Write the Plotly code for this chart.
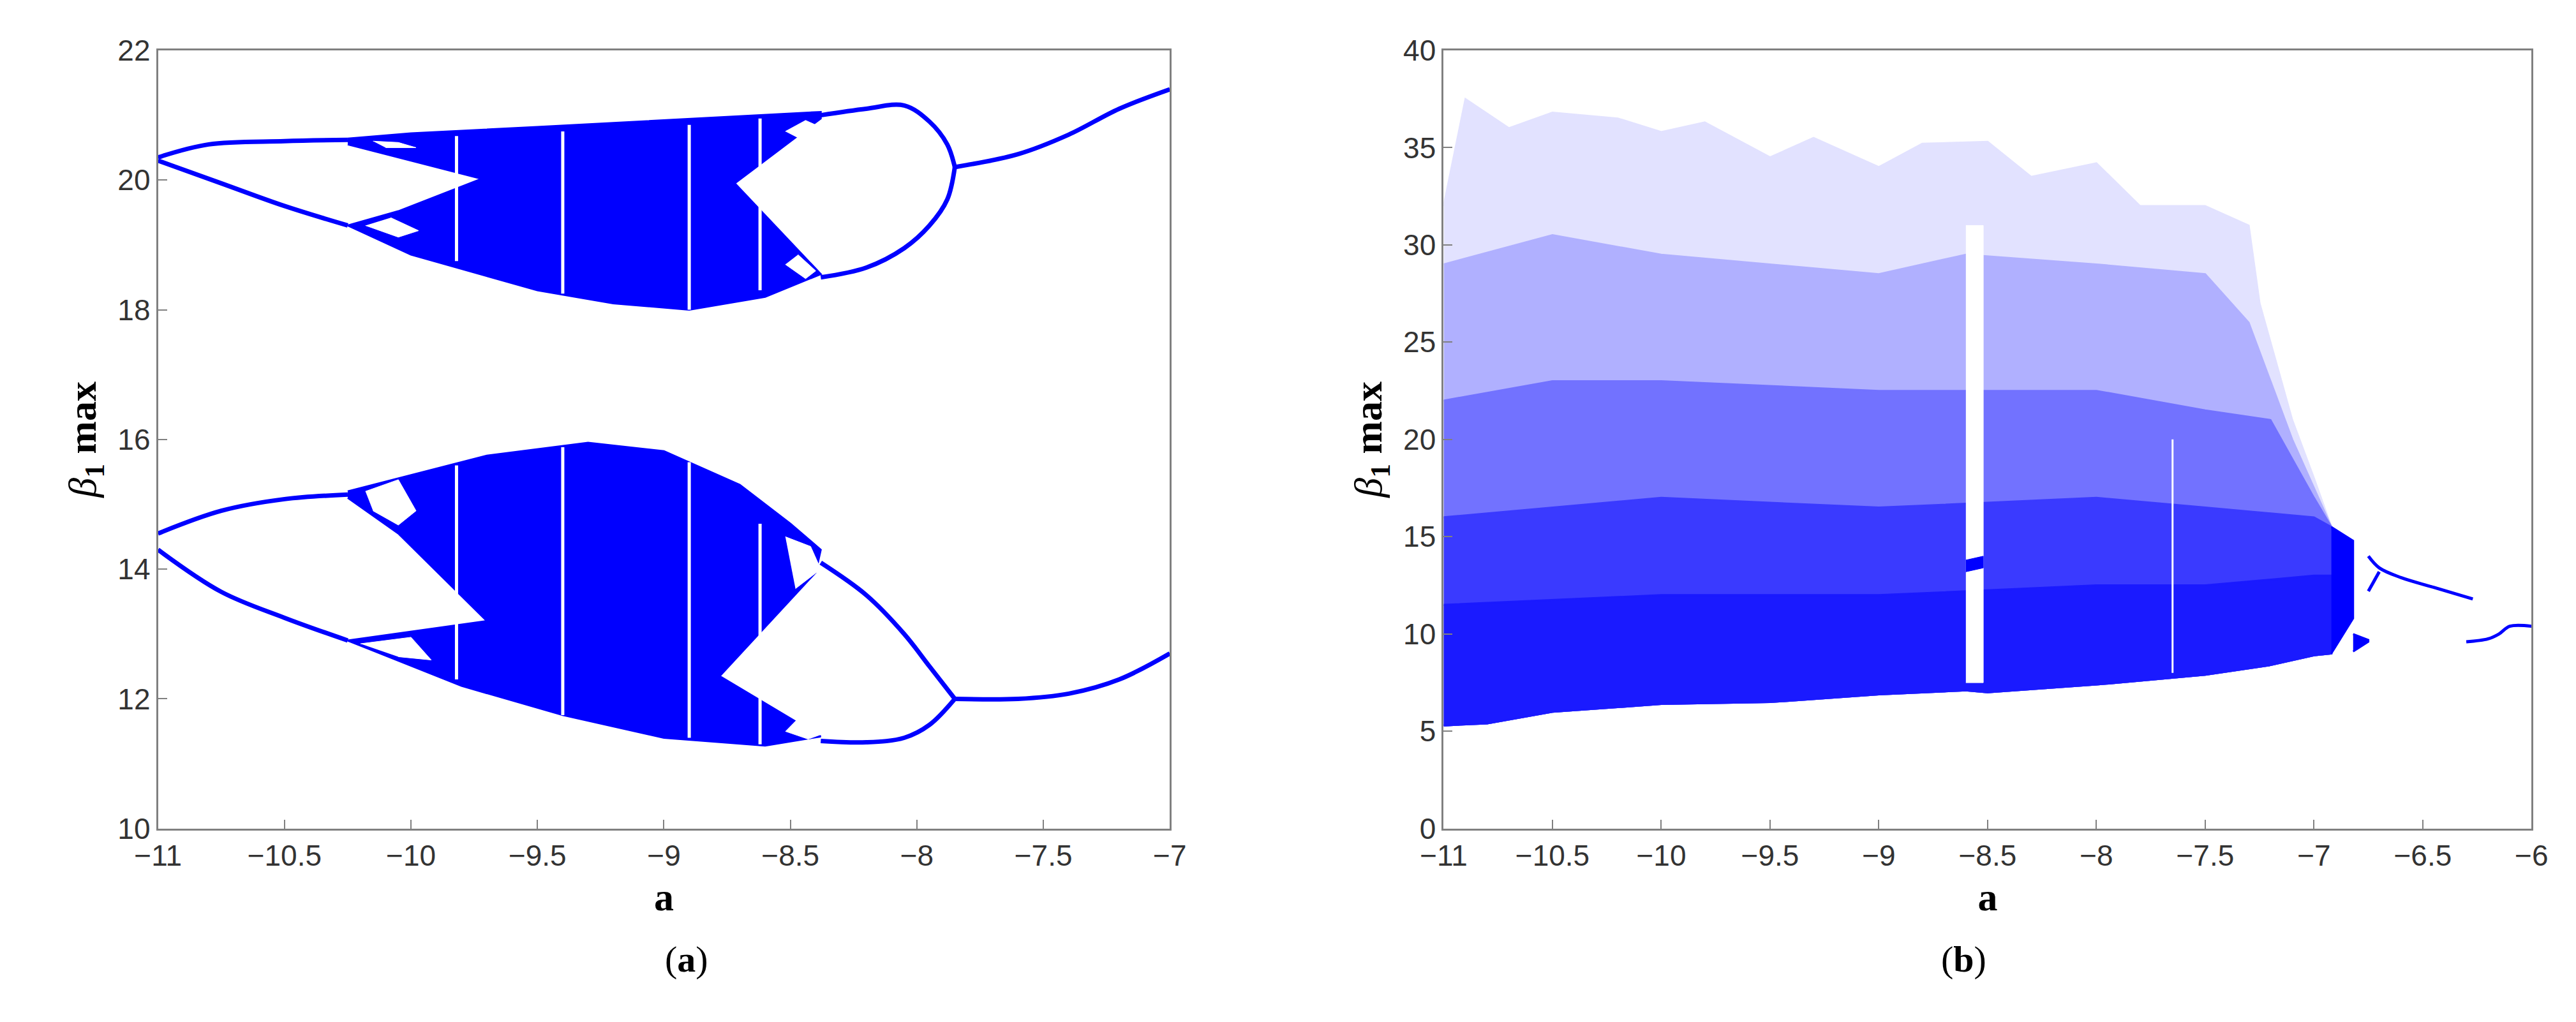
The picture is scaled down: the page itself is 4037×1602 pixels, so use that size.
import plotly.graph_objects as go

BLUE = "#0000ff"

# ---------- panel (a): upper attractor ----------
a_u_loop_top_x = [-11, -10.8, -10.5, -10.25]
a_u_loop_top_y = [20.35, 20.55, 20.6, 20.62]
a_u_loop_bot_x = [-11, -10.75, -10.5, -10.25]
a_u_loop_bot_y = [20.3, 19.95, 19.6, 19.3]
# chaotic band outline (clockwise, with the notches of the periodic wedges)
a_u_band_x = [-10.25, -10.0, -9.5, -9.0, -8.6, -8.38, -8.38, -8.72, -8.38,
              -8.6, -8.9, -9.2, -9.5, -10.0, -10.25, -10.05, -9.72, -10.25]
a_u_band_y = [20.64, 20.72, 20.82, 20.92, 21.0, 21.05, 20.95, 19.95, 18.55,
              18.2, 18.0, 18.1, 18.3, 18.85, 19.3, 19.52, 20.02, 20.55]
a_u_hole1_x = [-10.18, -10.05, -9.97, -10.08]
a_u_hole1_y = [19.3, 19.12, 19.22, 19.42]
a_u_hole2_x = [-10.15, -10.05, -9.98, -10.1]
a_u_hole2_y = [20.6, 20.58, 20.5, 20.5]
a_u_hole3_x = [-8.52, -8.44, -8.4, -8.47]
a_u_hole3_y = [20.75, 20.92, 20.85, 20.65]
a_u_hole4_x = [-8.52, -8.44, -8.4, -8.47]
a_u_hole4_y = [18.7, 18.48, 18.6, 18.85]
a_u_right_top_x = [-8.38, -8.2, -8.05, -7.95, -7.88, -7.85]
a_u_right_top_y = [21.0, 21.1, 21.15, 20.9, 20.55, 20.2]
a_u_right_bot_x = [-8.38, -8.2, -8.05, -7.95, -7.88, -7.85]
a_u_right_bot_y = [18.5, 18.65, 18.95, 19.3, 19.7, 20.2]
a_u_tail_x = [-7.85, -7.6, -7.4, -7.2, -7.0]
a_u_tail_y = [20.2, 20.4, 20.7, 21.1, 21.4]

# ---------- panel (a): lower attractor ----------
a_l_loop_top_x = [-11, -10.75, -10.5, -10.25]
a_l_loop_top_y = [14.55, 14.9, 15.08, 15.15]
a_l_loop_bot_x = [-11, -10.75, -10.5, -10.25]
a_l_loop_bot_y = [14.3, 13.65, 13.25, 12.9]
a_l_band_x = [-10.25, -10.0, -9.7, -9.3, -9.0, -8.7, -8.5, -8.38, -8.4, -8.78, -8.38,
              -8.6, -9.0, -9.4, -9.8, -10.25, -9.7, -10.05, -10.25]
a_l_band_y = [15.2, 15.45, 15.75, 15.95, 15.82, 15.3, 14.7, 14.3, 13.95, 12.35, 11.42,
              11.28, 11.4, 11.75, 12.2, 12.9, 13.2, 14.55, 15.1]
a_l_hole1_x = [-10.18, -10.05, -9.98, -10.05, -10.15]
a_l_hole1_y = [15.2, 15.38, 14.9, 14.68, 14.9]
a_l_hole2_x = [-10.2, -10.0, -9.92, -10.05]
a_l_hole2_y = [12.85, 12.95, 12.6, 12.65]
a_l_hole3_x = [-8.52, -8.42, -8.38, -8.48]
a_l_hole3_y = [14.5, 14.35, 14.0, 13.7]
a_l_hole4_x = [-8.52, -8.43, -8.38, -8.47]
a_l_hole4_y = [11.5, 11.38, 11.45, 11.7]
a_l_right_top_x = [-8.38, -8.2, -8.05, -7.95, -7.85]
a_l_right_top_y = [14.1, 13.6, 13.0, 12.5, 12.0]
a_l_right_bot_x = [-8.38, -8.2, -8.05, -7.95, -7.85]
a_l_right_bot_y = [11.35, 11.33, 11.4, 11.6, 12.0]
a_l_tail_x = [-7.85, -7.6, -7.4, -7.2, -7.0]
a_l_tail_y = [12.0, 12.0, 12.08, 12.3, 12.7]

# periodic windows (white gaps)
a_gap_x = [-9.82, -9.4, -8.9, -8.62]
a_gap_u_lo = [18.75, 18.25, 18.0, 18.3]
a_gap_u_hi = [20.68, 20.75, 20.85, 20.95]
a_gap_l_lo = [12.3, 11.75, 11.4, 11.3]
a_gap_l_hi = [15.6, 15.88, 15.65, 14.7]

# ---------- panel (b) ----------
b_vsparse_top_x = [-11, -10.9, -10.7, -10.5, -10.2, -10.0, -9.8, -9.5, -9.3, -9.0, -8.8, -8.5, -8.3, -8.0, -7.8, -7.5, -7.3, -7.25, -7.1, -7.0, -6.92]
b_vsparse_top_y = [32, 37.5, 36.0, 36.8, 36.5, 35.8, 36.3, 34.5, 35.5, 34.0, 35.2, 35.3, 33.5, 34.2, 32.0, 32.0, 31.0, 27.0, 21.0, 18.0, 15.5]
b_sparse_top_x = [-11, -10.5, -10.0, -9.5, -9.0, -8.6, -8.0, -7.5, -7.3, -7.2, -7.1, -7.0, -6.92]
b_sparse_top_y = [29, 30.5, 29.5, 29.0, 28.5, 29.5, 29.0, 28.5, 26.0, 23.0, 20.0, 17.5, 15.5]
b_mid_top_x = [-11, -10.5, -10.0, -9.0, -8.0, -7.5, -7.2, -7.1, -7.0, -6.92]
b_mid_top_y = [22, 23.0, 23.0, 22.5, 22.5, 21.5, 21.0, 19.0, 17.0, 15.5]
b_dense_top_x = [-11, -10.0, -9.0, -8.0, -7.5, -7.0, -6.92]
b_dense_top_y = [16, 17.0, 16.5, 17.0, 16.5, 16.0, 15.5]
b_bot_x = [-11, -10.8, -10.5, -10.0, -9.5, -9.0, -8.6, -8.5, -8.0, -7.5, -7.2, -7.0, -6.92]
b_bot_y = [5.3, 5.4, 6.0, 6.4, 6.5, 6.9, 7.1, 7.0, 7.4, 7.9, 8.4, 8.9, 9.0]
b_core_top_x = [-11, -10.0, -9.0, -8.0, -7.5, -7.0, -6.92]
b_core_top_y = [11.5, 12.0, 12.0, 12.5, 12.5, 13.0, 13.0]
b_win_x = [-6.92, -6.82, -6.82, -6.92]
b_win_y = [15.5, 14.8, 10.8, 9.0]
b_blk_x = [-6.82, -6.75, -6.75, -6.82]
b_blk_y = [10.0, 9.7, 9.6, 9.1]
b_br1_x = [-6.75, -6.7, -6.6, -6.45, -6.27]
b_br1_y = [14.0, 13.4, 12.9, 12.4, 11.8]
b_br2_x = [-6.75, -6.7]
b_br2_y = [12.2, 13.2]
b_br3_x = [-6.3, -6.2, -6.15, -6.1, -6.0]
b_br3_y = [9.6, 9.75, 10.0, 10.4, 10.4]
b_gap_x = [-8.6, -8.52, -8.52, -8.6]
b_gap_y = [7.5, 7.5, 31.0, 31.0]
b_blob_x = [-8.6, -8.52, -8.52, -8.6]
b_blob_y = [13.2, 13.4, 14.0, 13.8]
b_line_x = [-7.65, -7.65]
b_line_y = [8.0, 20.0]

fig = go.Figure()


def shape(xs, ys, color, ax, w=3):
    fig.add_trace(go.Scatter(x=xs, y=ys, mode="lines", fill="toself", fillcolor=color,
                             line=dict(color=color, width=w),
                             xaxis=ax, yaxis=ax.replace("x", "y"), hoverinfo="skip"))


def poly(xs_top, ys_top, xs_bot, ys_bot, color, ax):
    shape(xs_top + xs_bot[::-1], ys_top + ys_bot[::-1], color, ax)


def line(xs, ys, ax, w=7, color=BLUE):
    fig.add_trace(go.Scatter(x=xs, y=ys, mode="lines", line=dict(color=color, width=w, shape="spline"),
                             xaxis=ax, yaxis=ax.replace("x", "y"), hoverinfo="skip"))


# panel a
shape(a_u_band_x, a_u_band_y, BLUE, "x")
shape(a_l_band_x, a_l_band_y, BLUE, "x")
for hx, hy in [(a_u_hole1_x, a_u_hole1_y), (a_u_hole2_x, a_u_hole2_y), (a_u_hole3_x, a_u_hole3_y),
               (a_u_hole4_x, a_u_hole4_y), (a_l_hole1_x, a_l_hole1_y), (a_l_hole2_x, a_l_hole2_y),
               (a_l_hole3_x, a_l_hole3_y), (a_l_hole4_x, a_l_hole4_y)]:
    shape(hx, hy, "white", "x", w=1)
for gx, lo, hi in zip(a_gap_x, a_gap_u_lo, a_gap_u_hi):
    line([gx, gx], [lo, hi], "x", w=5, color="white")
for gx, lo, hi in zip(a_gap_x, a_gap_l_lo, a_gap_l_hi):
    line([gx, gx], [lo, hi], "x", w=5, color="white")
for lx, ly in [(a_u_loop_top_x, a_u_loop_top_y), (a_u_loop_bot_x, a_u_loop_bot_y),
               (a_u_right_top_x, a_u_right_top_y), (a_u_right_bot_x, a_u_right_bot_y),
               (a_u_tail_x, a_u_tail_y),
               (a_l_loop_top_x, a_l_loop_top_y), (a_l_loop_bot_x, a_l_loop_bot_y),
               (a_l_right_top_x, a_l_right_top_y), (a_l_right_bot_x, a_l_right_bot_y),
               (a_l_tail_x, a_l_tail_y)]:
    line(lx, ly, "x")

# panel b (scatter cloud shown as density layers)
poly(b_vsparse_top_x, b_vsparse_top_y, b_bot_x, b_bot_y, "#e2e2ff", "x2")
poly(b_sparse_top_x, b_sparse_top_y, b_bot_x, b_bot_y, "#b0b0ff", "x2")
poly(b_mid_top_x, b_mid_top_y, b_bot_x, b_bot_y, "#7272ff", "x2")
poly(b_dense_top_x, b_dense_top_y, b_bot_x, b_bot_y, "#3a3aff", "x2")
poly(b_core_top_x, b_core_top_y, b_bot_x, b_bot_y, "#1a1aff", "x2")
shape(b_gap_x, b_gap_y, "white", "x2", w=1)
shape(b_blob_x, b_blob_y, BLUE, "x2", w=1)
line(b_line_x, b_line_y, "x2", w=3, color="white")
shape(b_win_x, b_win_y, BLUE, "x2")
shape(b_blk_x, b_blk_y, BLUE, "x2")
for lx, ly in [(b_br1_x, b_br1_y), (b_br2_x, b_br2_y), (b_br3_x, b_br3_y)]:
    line(lx, ly, "x2", w=5)

ax_common = dict(showgrid=False, zeroline=False, showline=True, mirror=True, linecolor="#808080",
                 linewidth=3, ticks="inside", ticklen=14, tickwidth=2, tickcolor="#808080",
                 tickfont=dict(family="Liberation Sans, Arial", size=46, color="#333"))
title_font = dict(family="Liberation Serif, Times New Roman", size=62, color="black")
ytitle = "<i>β</i><sub><b>1</b></sub> <b>max</b>"

fig.update_layout(
    width=4037, height=1602, plot_bgcolor="white", paper_bgcolor="white", showlegend=False,
    margin=dict(l=0, r=0, t=0, b=0),
    xaxis=dict(domain=[0.051, 0.450], range=[-11, -7], dtick=0.5, anchor="y",
               title=dict(text="<b>a</b>", font=title_font, standoff=18), **ax_common),
    yaxis=dict(domain=[0.184, 0.971], range=[10, 22], dtick=2, anchor="x",
               title=dict(text=ytitle, font=title_font, standoff=14), **ax_common),
    xaxis2=dict(domain=[0.558, 0.987], range=[-11, -6], dtick=0.5, anchor="y2",
                title=dict(text="<b>a</b>", font=title_font, standoff=18), **ax_common),
    yaxis2=dict(domain=[0.184, 0.971], range=[0, 40], dtick=5, anchor="x2",
                title=dict(text=ytitle, font=title_font, standoff=14), **ax_common),
    annotations=[
        dict(text="(<b>a</b>)", x=0.2505, y=0.03, xref="paper", yref="paper", showarrow=False,
             font=dict(family="Liberation Serif, Times New Roman", size=58, color="black")),
        dict(text="(<b>b</b>)", x=0.7725, y=0.03, xref="paper", yref="paper", showarrow=False,
             font=dict(family="Liberation Serif, Times New Roman", size=58, color="black")),
    ],
)

fig.write_html("out.html")
